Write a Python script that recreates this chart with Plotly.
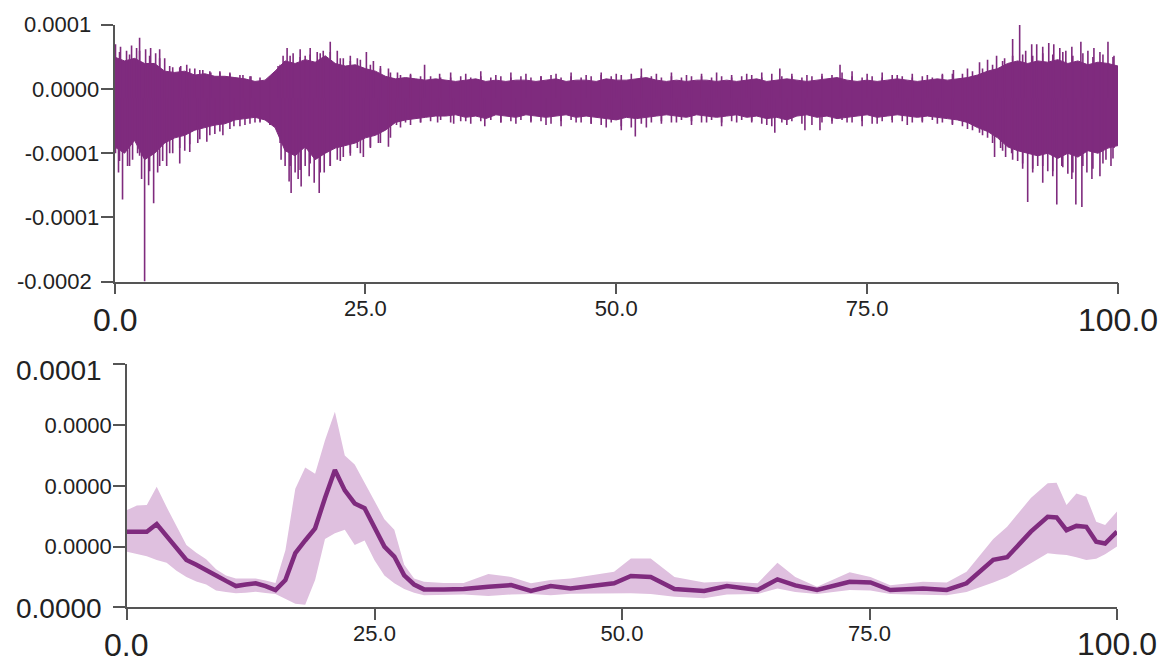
import plotly.graph_objects as go

W, H = 1162, 662
U = 1e-5  # all values below are in units of 1e-5

# ---------------- top panel: raw signal ----------------
body_x = list(range(0, 101))
body_hi = [2.5, 2.2, 2.4, 2.0, 2.0, 1.4, 1.3, 1.4, 1.1, 1.2, 1.0, 1.0, 0.9, 0.8, 0.6, 0.7, 1.4, 2.2, 2.0, 2.3,
           2.1, 2.6, 2.0, 1.8, 1.9, 1.6, 1.4, 1.0, 0.8, 0.9, 0.8, 0.7, 0.8,
           0.7, 0.6, 0.7, 0.8, 0.6, 0.7, 0.6, 0.7, 0.7, 0.6, 0.7, 0.8, 0.6, 0.7, 0.7, 0.6, 0.8, 0.7, 0.7, 0.8,
           0.9, 0.7, 0.6, 0.7, 0.6, 0.7, 0.7, 0.6, 0.7, 0.6, 0.7, 0.8, 0.6, 0.7, 0.8, 0.7, 0.6, 0.7, 0.8, 0.9,
           0.7, 0.6, 0.7, 0.6, 0.7, 0.8, 0.7, 0.6, 0.7, 0.8, 0.7, 0.8,
           0.9, 1.1, 1.4, 1.6, 2.0, 2.2, 2.0, 2.2, 2.1, 2.3, 2.0, 2.2, 1.9, 2.1, 2.0, 1.8]
body_lo = [-4.5, -5.0, -4.0, -5.5, -5.0, -4.2, -3.8, -3.6, -3.2, -3.0, -2.8, -2.7, -2.4, -2.3, -2.2, -2.4, -3.0,
           -4.8, -5.2, -4.5, -5.5, -5.0, -4.6, -4.4, -4.2, -3.8, -3.6, -3.2, -2.6, -2.4, -2.3, -2.2, -2.1,
           -2.1, -2.0, -2.2, -2.1, -2.3, -2.0, -2.1, -2.2, -2.0, -2.1, -2.2, -2.1, -2.0, -2.2, -2.1, -2.2, -2.3,
           -2.4, -2.2, -2.3, -2.2, -2.1, -2.0, -2.1, -2.2, -2.0, -2.1, -2.2, -2.1, -2.0, -2.2, -2.1, -2.3, -2.2,
           -2.4, -2.1, -2.0, -2.2, -2.1, -2.3, -2.2, -2.1, -2.0, -2.2, -2.1, -2.0, -2.1, -2.2, -2.1, -2.2, -2.3, -2.4,
           -2.6, -3.0, -3.3, -3.8, -4.5, -4.8, -5.0, -5.2, -5.0, -5.4, -5.0, -5.3, -4.8, -5.0, -4.6, -4.4]
signal_mid = -0.7

# short strokes between body samples (fuzzy edge of the trace)
stroke_x = [i + 0.5 for i in range(100)]
stroke_hi = [2.9, 2.7, 3.0, 2.6, 2.4, 1.8, 1.7, 1.6, 1.5, 1.4,
             1.3, 1.2, 1.1, 1.0, 0.9, 1.0, 1.9, 2.6, 2.5, 2.7,
             2.8, 2.9, 2.4, 2.2, 2.3, 1.9, 1.6, 1.3, 1.1, 1.1,
             1.0, 1.0, 0.9, 0.9, 1.0, 0.9, 1.0, 0.9, 1.0, 0.9,
             1.0, 0.9, 1.0, 1.1, 0.9, 1.0, 0.9, 1.0, 1.1, 1.0,
             1.1, 1.2, 1.0, 1.0, 0.9, 1.0, 0.9, 1.0, 1.0, 0.9,
             1.0, 0.9, 1.0, 1.1, 0.9, 1.2, 1.0, 1.0, 0.9, 1.0,
             1.0, 1.1, 1.3, 1.0, 0.9, 1.0, 0.9, 1.1, 1.0, 0.9,
             1.0, 0.9, 1.1, 1.2, 1.2, 1.4, 1.6, 1.9, 2.2, 2.6,
             2.7, 2.6, 2.8, 2.7, 2.9, 2.6, 2.8, 2.5, 2.7, 2.5]
stroke_lo = [-5.6, -6.0, -5.2, -6.4, -6.0, -5.0, -4.6, -4.3, -3.9, -3.6,
             -3.3, -3.1, -2.9, -2.7, -2.6, -2.8, -4.2, -6.0, -6.3, -5.8,
             -6.5, -6.0, -5.6, -5.2, -5.0, -4.6, -4.2, -3.8, -3.0, -2.8,
             -2.6, -2.5, -2.4, -2.6, -2.5, -2.7, -2.5, -2.4, -2.6, -2.5,
             -2.4, -2.6, -2.5, -2.7, -2.5, -2.4, -2.6, -2.7, -2.8, -2.6,
             -2.9, -3.0, -2.7, -2.6, -2.5, -2.6, -2.4, -2.5, -2.6, -2.4,
             -2.6, -2.5, -2.4, -2.6, -2.7, -2.9, -2.6, -2.5, -2.7, -2.8,
             -2.6, -2.5, -2.4, -2.6, -2.5, -2.7, -2.5, -2.4, -2.5, -2.6,
             -2.5, -2.4, -2.6, -2.7, -2.9, -3.2, -3.6, -4.2, -4.8, -5.5,
             -5.8, -6.2, -6.0, -6.4, -6.1, -6.5, -6.0, -6.2, -5.8, -5.4]

up_x = [0.1, 0.6, 1.2, 1.7, 2.2, 2.5, 3.1, 3.6, 4.1, 4.5, 5.0, 5.8, 6.6, 7.2, 8.0, 8.8, 9.6, 10.5, 11.5, 12.8,
        13.6, 16.3, 16.8, 17.2, 17.8, 18.5, 19.0, 19.5, 20.2, 20.8, 21.5, 22.2, 22.8, 23.5, 24.2, 25.1, 25.8,
        26.5, 27.3, 28.2, 29.5, 30.9, 32.4, 33.5, 35.0, 36.5, 38.0, 39.5, 41.0, 42.5, 44.0, 45.5, 47.0, 48.5,
        50.0, 52.5, 54.0, 55.5, 57.0, 58.5, 60.0, 61.5, 63.0, 64.5, 66.3, 67.5, 69.0, 70.5, 72.3, 73.5, 75.0,
        76.5, 78.0, 79.5, 81.0, 82.5, 83.6, 85.0, 86.2, 87.0, 87.9, 88.7, 89.5, 90.2, 90.8, 91.4, 91.9, 92.5,
        93.1, 93.6, 94.2, 94.8, 95.4, 96.3, 97.0, 97.6, 98.2, 99.0, 99.6]
up_y = [3.5, 3.3, 3.0, 3.4, 3.2, 4.0, 3.1, 3.2, 2.8, 3.1, 2.4, 1.7, 1.8, 1.9, 1.6, 1.5, 1.3, 1.4, 1.3, 1.1,
        1.0, 1.8, 2.6, 3.2, 2.8, 3.1, 2.6, 3.2, 2.9, 3.0, 3.7, 3.0, 2.4, 2.6, 2.4, 2.9, 2.2,
        1.8, 1.6, 1.3, 1.2, 1.9, 1.2, 1.3, 1.2, 1.4, 1.1, 1.3, 1.2, 1.0, 1.2, 1.3, 1.1, 1.3,
        1.2, 1.6, 1.2, 1.3, 1.1, 1.2, 1.3, 1.1, 1.2, 1.3, 1.6, 1.2, 1.1, 1.2, 1.9, 1.4, 1.2,
        1.3, 1.1, 1.2, 1.1, 1.2, 1.5, 1.6, 2.1, 2.3, 2.6, 2.4, 3.9, 5.0, 3.0, 3.5, 3.5, 3.3,
        3.6, 3.5, 3.2, 3.0, 3.3, 3.7, 3.0, 3.2, 2.9, 3.7, 2.6]
down_x = [0.1, 0.4, 0.8, 1.3, 1.8, 2.3, 2.7, 3.0, 3.4, 3.9, 4.3, 4.8, 5.2, 5.8, 6.5, 7.0, 7.5, 8.3, 9.2, 10.0,
          10.8, 11.9, 13.0, 14.0, 14.5, 15.5, 16.6, 17.0, 17.4, 17.6, 18.0, 18.3, 18.6, 19.0, 19.4, 19.9, 20.4,
          20.9, 21.5, 22.2, 22.8, 23.5, 24.2, 24.8, 25.5, 26.3, 27.3, 28.1, 29.0, 30.5, 32.2, 33.8, 35.0, 36.9,
          38.5, 40.0, 41.5, 43.0, 44.5, 46.0, 47.5, 49.0, 50.5, 51.9, 53.0, 54.5, 56.0, 57.5, 59.0, 60.5, 62.0,
          63.5, 65.0, 65.8, 67.0, 68.8, 70.3, 71.5, 73.0, 74.5, 76.0, 77.5, 79.0, 80.5, 82.0, 83.5, 85.0, 86.2,
          87.0, 87.7, 88.3, 88.8, 89.4, 90.0, 90.5, 91.0, 91.5, 92.0, 92.5, 93.0, 93.5, 93.9, 94.4, 95.0, 95.4,
          95.8, 96.4, 96.9, 97.4, 98.2, 98.8, 99.3, 99.6]
down_y = [-5.0, -6.5, -8.6, -6.0, -5.5, -5.0, -7.0, -15.0, -7.5, -8.9, -6.5, -5.6, -6.0, -5.0, -5.8, -4.8, -4.9,
          -4.2, -4.1, -3.5, -3.6, -2.9, -2.8, -2.6, -2.5, -2.8, -5.5, -6.0, -7.2, -8.1, -6.5, -7.0, -7.6, -6.0,
          -6.8, -7.3, -8.1, -6.5, -6.0, -5.5, -5.3, -5.0, -4.6, -5.3, -4.5, -4.2, -4.5, -2.8, -2.6, -2.6, -2.6,
          -2.7, -2.5, -2.9, -2.6, -2.7, -2.5, -2.8, -2.9, -2.6, -2.7, -3.0, -3.2, -3.7, -3.0, -2.7, -2.6, -2.8,
          -2.6, -2.9, -2.6, -2.5, -2.8, -3.4, -2.8, -3.2, -3.2, -2.7, -2.6, -2.9, -2.7, -2.6, -2.8, -2.6, -2.7,
          -2.8, -3.1, -3.4, -3.8, -5.3, -4.6, -5.3, -5.0, -5.6, -6.2, -8.8, -6.5, -6.0, -7.3, -6.4, -6.8, -9.0,
          -6.0, -6.6, -7.0, -9.0, -9.2, -6.5, -7.0, -6.8, -5.5, -6.0, -4.6]

# ---------------- bottom panel: envelope ----------------
env_x = [0, 1, 2, 3, 4, 5, 6, 7, 8, 9, 10, 11, 12, 13, 14, 15, 16, 17, 18, 19, 20, 21, 22, 23, 24, 25, 26, 27,
         28, 29, 30, 32, 34, 36.5, 38.8, 40.8, 42.8, 44.8, 47, 49.2, 50.9, 52.9, 55.3, 58.3, 60.6, 63.7, 65.7,
         67.5, 69.7, 73.0, 75.1, 77.1, 80.4, 82.8, 84.8, 87.5, 88.9, 91.3, 93.0, 93.9, 94.9, 95.9, 96.9, 97.9,
         98.8, 100]
env_mean = [2.49, 2.49, 2.49, 2.74, 2.35, 1.95, 1.56, 1.4, 1.24, 1.05, 0.87, 0.7, 0.75, 0.79, 0.7, 0.57,
            0.9, 1.78, 2.2, 2.6, 3.6, 4.52, 3.85, 3.42, 3.26, 2.6, 2.0, 1.67, 1.05, 0.75, 0.59,
            0.59, 0.6,
            0.68, 0.73, 0.54, 0.7, 0.62, 0.7, 0.79, 1.03, 1.0, 0.6, 0.54, 0.7, 0.57, 0.92, 0.72, 0.57, 0.84,
            0.82, 0.57, 0.62, 0.57, 0.79, 1.56, 1.65, 2.49, 2.98, 2.96, 2.54, 2.68, 2.65, 2.16, 2.1, 2.49]
env_hi = [3.2, 3.35, 3.37, 3.97, 3.3, 2.65, 2.05, 1.8, 1.58, 1.25, 1.05, 0.95, 0.95, 0.95, 0.88, 0.8,
          1.88, 3.9, 4.6, 4.4, 5.5, 6.44, 5.0, 4.7, 4.1, 3.5, 2.9, 2.55, 1.4, 0.95, 0.84,
          0.8, 0.8,
          1.1, 1.0, 0.79, 0.9, 0.95, 1.05, 1.17, 1.61, 1.61, 1.0, 0.82, 0.85, 0.79, 1.47, 1.0, 0.68, 1.15,
          1.0, 0.73, 0.84, 0.82, 1.17, 2.25, 2.65, 3.6, 4.08, 4.1, 3.37, 3.75, 3.64, 2.82, 2.71, 3.15]
env_lo = [1.83, 1.75, 1.68, 1.56, 1.47, 1.2, 1.0, 0.85, 0.75, 0.55, 0.5, 0.46, 0.48, 0.51, 0.47, 0.44,
          0.27, 0.12, 0.08, 0.9, 2.25, 2.44, 2.55, 2.05, 2.2, 1.55, 1.05, 0.79, 0.6, 0.48, 0.4,
          0.4, 0.42,
          0.37, 0.42, 0.44, 0.4, 0.45, 0.46, 0.46, 0.46, 0.44, 0.35, 0.3, 0.42, 0.44, 0.62, 0.5, 0.44, 0.57,
          0.55, 0.44, 0.42, 0.40, 0.5, 0.82, 1.0, 1.45, 1.78, 1.75, 1.72, 1.65, 1.56, 1.6, 1.75, 2.0]

x_ticks = [0, 25, 50, 75, 100]
x_ticktext = ["", "25.0", "50.0", "75.0", ""]
top_yticks = [5, 0, -5, -10, -15]
top_yticktext = ["", "0.0000", "-0.0001", "-0.0001", ""]
bot_yticks = [0, 2, 4, 6, 8]
bot_yticktext = ["", "0.0000", "0.0000", "0.0000", ""]

assert len(body_hi) == len(body_x) == len(body_lo)
assert len(stroke_x) == len(stroke_hi) == len(stroke_lo)
assert len(up_x) == len(up_y) and len(down_x) == len(down_y)
assert len(env_x) == len(env_mean) == len(env_hi) == len(env_lo)

PURPLE = "#7f2b7e"
BAND = "#dfc0df"
AXC = "#555555"
TXT = "#222222"
FONT = "Liberation Sans, Arial, sans-serif"

fig = go.Figure()

# body of signal
fig.add_trace(go.Scatter(
    x=body_x + body_x[::-1],
    y=[v * U for v in body_hi] + [v * U for v in body_lo[::-1]],
    fill="toself", fillcolor=PURPLE, mode="lines",
    line=dict(color=PURPLE, width=1), xaxis="x", yaxis="y", hoverinfo="skip"))

# fuzzy edge strokes + spikes
sx, sy = [], []
for xv, hv, lv in zip(stroke_x, stroke_hi, stroke_lo):
    sx += [xv, xv, None]
    sy += [lv * U, hv * U, None]
for xv, yv in list(zip(up_x, up_y)) + list(zip(down_x, down_y)):
    sx += [xv, xv, None]
    sy += [signal_mid * U, yv * U, None]
fig.add_trace(go.Scatter(x=sx, y=sy, mode="lines", line=dict(color=PURPLE, width=1.6),
                         xaxis="x", yaxis="y", hoverinfo="skip"))

# band
fig.add_trace(go.Scatter(
    x=env_x + env_x[::-1],
    y=[v * U for v in env_hi] + [v * U for v in env_lo[::-1]],
    fill="toself", fillcolor=BAND, mode="lines", line=dict(width=0, color=BAND),
    xaxis="x2", yaxis="y2", hoverinfo="skip"))
fig.add_trace(go.Scatter(x=env_x, y=[v * U for v in env_mean], mode="lines",
                         line=dict(color=PURPLE, width=4.5), xaxis="x2", yaxis="y2"))

px = lambda p: p / W
py = lambda p: 1 - p / H

common_x = dict(range=[0, 100], tickvals=x_ticks, ticktext=x_ticktext, ticks="outside", ticklen=11,
                tickwidth=1.5, tickcolor=AXC, showline=True, linecolor=AXC, linewidth=1.5,
                showgrid=False, zeroline=False, tickfont=dict(family=FONT, size=22, color=TXT),
                ticklabelstandoff=-5, fixedrange=True)
common_y = dict(ticks="outside", ticklen=12, tickwidth=1.5, tickcolor=AXC, showline=True, linecolor=AXC,
                linewidth=1.5, showgrid=False, zeroline=False, ticklabelstandoff=-3,
                tickfont=dict(family=FONT, size=22, color=TXT), fixedrange=True)

fig.update_layout(
    width=W, height=H, margin=dict(l=0, r=0, t=0, b=0),
    paper_bgcolor="white", plot_bgcolor="white", showlegend=False,
    xaxis=dict(domain=[px(114.5), px(1118)], anchor="y", **common_x),
    yaxis=dict(domain=[py(281.5), py(25)], anchor="x", range=[-15 * U, 5 * U],
               tickvals=[v * U for v in top_yticks], ticktext=top_yticktext, **common_y),
    xaxis2=dict(domain=[px(127), px(1117)], anchor="y2", **common_x),
    yaxis2=dict(domain=[py(607.3), py(364.3)], anchor="x2", range=[0, 8 * U],
                tickvals=[v * U for v in bot_yticks], ticktext=bot_yticktext, **common_y),
)

def lab(text, x, y, size, xanchor="center", yanchor="middle"):
    fig.add_annotation(text=text, x=px(x), y=py(y), xref="paper", yref="paper", showarrow=False,
                       xanchor=xanchor, yanchor=yanchor,
                       font=dict(family=FONT, size=size, color=TXT))

lab("0.0001", 93, 25, 22, xanchor="right")
lab("-0.0002", 94, 281.5, 22, xanchor="right")
lab("0.0", 114.5, 320, 32)
lab("100.0", 1117.5, 320, 32)
lab("0.0001", 104, 370, 28, xanchor="right")
lab("0.0000", 104, 608, 28, xanchor="right")
lab("0.0", 126, 645, 32)
lab("100.0", 1116.5, 644, 32)

fig.write_html("out.html", config={"displayModeBar": False},
               post_script="document.body.style.margin='0px';document.body.style.overflow='hidden';")
